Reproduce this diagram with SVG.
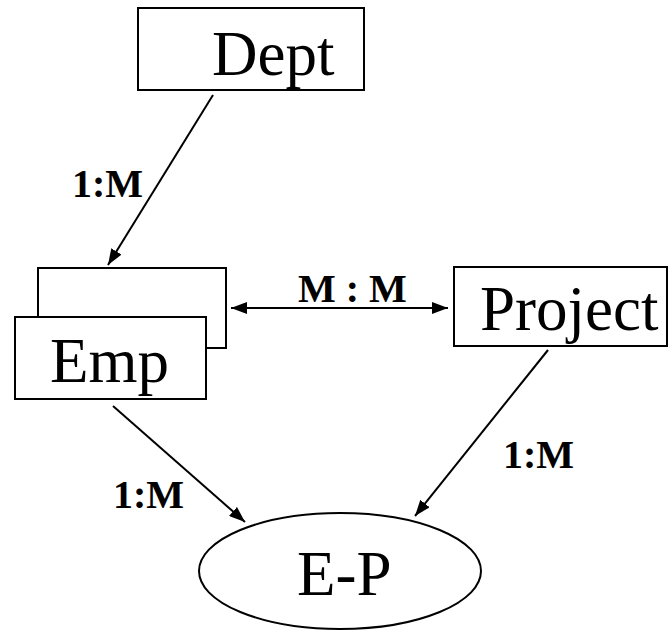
<svg xmlns="http://www.w3.org/2000/svg" width="671" height="630" viewBox="0 0 671 630" font-family="'Liberation Serif', 'Times New Roman', serif">
<style>
.box{fill:#fff;stroke:#000;stroke-width:2}
.big{font-size:63px;fill:#000}
.lbl{font-size:40px;font-weight:bold;fill:#000}
.con{stroke:#000;stroke-width:2;fill:none}
</style>
<defs>
<marker id="a" viewBox="0 0 16 12" refX="16" refY="6" markerWidth="16" markerHeight="12" markerUnits="userSpaceOnUse" orient="auto-start-reverse">
<path d="M0,0 L16,6 L0,12 z" fill="#000"/>
</marker>
</defs>
<g id="connectors">
<line class="con" x1="213" y1="95" x2="108" y2="265" marker-end="url(#a)"/>
<line class="con" x1="231" y1="308" x2="448" y2="308" marker-start="url(#a)" marker-end="url(#a)"/>
<line class="con" x1="113" y1="406" x2="245" y2="522" marker-end="url(#a)"/>
<line class="con" x1="548" y1="350" x2="415" y2="516" marker-end="url(#a)"/>
<text class="lbl" x="72" y="197">1:M</text>
<text class="lbl" x="298" y="302">M : M</text>
<text class="lbl" x="113" y="508">1:M</text>
<text class="lbl" x="503" y="468">1:M</text>
</g>
<g id="dept">
<rect class="box" x="138" y="8" width="226" height="82"/>
<text class="big" x="212" y="75">Dept</text>
</g>
<g id="emp">
<rect class="box" x="38" y="268" width="188" height="80"/>
<rect class="box" x="15" y="317" width="191" height="82"/>
<text class="big" x="50" y="382">Emp</text>
</g>
<g id="project">
<rect class="box" x="454" y="267" width="213" height="79"/>
<text class="big" x="480" y="330">Project</text>
</g>
<g id="ep">
<ellipse class="box" cx="340" cy="571" rx="141" ry="58"/>
<text class="big" x="297" y="595">E-P</text>
</g>
</svg>
